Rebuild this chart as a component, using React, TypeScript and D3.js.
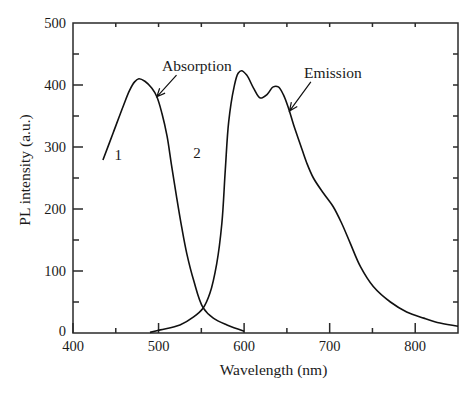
import React from "react";
import * as d3 from "d3";

// absorption curve (1)
const absWl = [435, 447, 459, 466, 472, 477, 484, 492, 498, 504, 510, 515, 521, 527, 533, 541, 552, 564, 580, 600];
const absVal = [279, 323, 367, 391, 405, 410, 406, 395, 381, 354, 317, 272, 220, 171, 128, 85, 41, 24, 13, 3];

// emission curve (2)
const emWl = [490, 502, 525, 541, 552, 560, 568, 574, 578, 582, 588, 593, 597, 603, 611, 619, 627, 634, 640, 646, 652, 658, 666, 673, 681, 693, 704, 714, 724, 736, 751, 771, 790, 810, 829, 850];
const emVal = [1, 5, 13, 26, 40, 64, 112, 177, 263, 341, 395, 419, 423, 416, 395, 379, 385, 397, 397, 384, 362, 335, 303, 275, 250, 225, 204, 177, 145, 107, 75, 50, 34, 24, 16, 11];

const xTicks = [400, 500, 600, 700, 800];
const yTicks = [0, 100, 200, 300, 400, 500];

// annotations: label, text anchor point, arrow start, arrow tip (data units)
const notes = [
  { text: "Absorption", at: [504, 422], from: [521, 416], to: [498, 381] },
  { text: "Emission", at: [670, 411], from: [678, 405], to: [653, 358] },
];
const curveLabels = [
  { text: "1", at: [453, 287] },
  { text: "2", at: [545, 290] },
];

const W = 474;
const H = 396;
const font = "'Liberation Serif', 'Times New Roman', serif";
const ink = "#2a2a2a";

export default function App() {
  const x = d3.scaleLinear().domain([400, 850]).range([73, 458]);
  const y = d3.scaleLinear().domain([0, 500]).range([333, 23]);

  const line = d3
    .line<[number, number]>()
    .x((d) => x(d[0]))
    .y((d) => y(d[1]))
    .curve(d3.curveCatmullRom.alpha(0.5));

  const absPath = line(absWl.map((w, i) => [w, absVal[i]]));
  const emPath = line(emWl.map((w, i) => [w, emVal[i]]));

  const [x0, x1] = x.range();
  const [y0, y1] = y.range();

  const arrowHead = (fx: number, fy: number, tx: number, ty: number) => {
    const a = Math.atan2(ty - fy, tx - fx);
    const len = 9;
    const spread = 0.42;
    const p1 = [tx - len * Math.cos(a - spread), ty - len * Math.sin(a - spread)];
    const p2 = [tx - len * Math.cos(a + spread), ty - len * Math.sin(a + spread)];
    return `M${fx},${fy}L${tx},${ty}M${p1[0]},${p1[1]}L${tx},${ty}L${p2[0]},${p2[1]}`;
  };

  return (
    <svg width={W} height={H} style={{ position: "absolute", left: 0, top: 0, background: "#fff" }}>
      <rect x={0} y={0} width={W} height={H} fill="#fff" />

      {/* frame */}
      <rect x={x0} y={y1} width={x1 - x0} height={y0 - y1} fill="none" stroke={ink} strokeWidth={1.5} />

      {/* bottom ticks */}
      {d3.range(400, 850, 50).map((v) => (
        <line key={"b" + v} x1={x(v)} x2={x(v)} y1={y0} y2={y0 - (v % 100 === 0 ? 10 : 5)} stroke={ink} strokeWidth={1.5} />
      ))}
      {/* top ticks */}
      {d3.range(450, 850, 50).map((v) => (
        <line key={"t" + v} x1={x(v)} x2={x(v)} y1={y1} y2={y1 + 4} stroke={ink} strokeWidth={1.5} />
      ))}
      {/* left ticks */}
      {d3.range(50, 500, 50).map((v) => (
        <line key={"l" + v} x1={x0} x2={x0 + (v % 100 === 0 ? 10 : 6)} y1={y(v)} y2={y(v)} stroke={ink} strokeWidth={1.5} />
      ))}
      {/* right ticks */}
      {d3.range(50, 500, 50).map((v) => (
        <line key={"r" + v} x1={x1} x2={x1 - 5} y1={y(v)} y2={y(v)} stroke={ink} strokeWidth={1.5} />
      ))}

      {/* tick labels */}
      <g fontFamily={font} fontSize={14.5} fill="#1a1a1a">
        {xTicks.map((v) => (
          <text key={"xl" + v} x={x(v)} y={y0 + 18} textAnchor="middle">
            {v}
          </text>
        ))}
        {yTicks.map((v) => (
          <text key={"yl" + v} x={x0 - 7} y={y(v) + (v === 0 ? 3 : 5)} textAnchor="end">
            {v}
          </text>
        ))}
      </g>

      {/* axis titles */}
      <text x={(x0 + x1) / 2 + 8} y={375} textAnchor="middle" fontFamily={font} fontSize={15.5} fill="#1a1a1a">
        Wavelength (nm)
      </text>
      <text
        transform={`translate(30,${(y0 + y1) / 2 - 8}) rotate(-90)`}
        textAnchor="middle"
        fontFamily={font}
        fontSize={15.5}
        fill="#1a1a1a"
      >
        PL intensity (a.u.)
      </text>

      {/* curves */}
      <path d={absPath ?? ""} fill="none" stroke="#111" strokeWidth={1.6} />
      <path d={emPath ?? ""} fill="none" stroke="#111" strokeWidth={1.6} />

      {/* annotations */}
      {notes.map((n) => (
        <g key={n.text}>
          <text x={x(n.at[0])} y={y(n.at[1])} fontFamily={font} fontSize={15.5} fill="#1a1a1a">
            {n.text}
          </text>
          <path
            d={arrowHead(x(n.from[0]), y(n.from[1]), x(n.to[0]), y(n.to[1]))}
            fill="none"
            stroke="#111"
            strokeWidth={1.2}
          />
        </g>
      ))}
      {curveLabels.map((c) => (
        <text key={c.text} x={x(c.at[0])} y={y(c.at[1]) + 5} textAnchor="middle" fontFamily={font} fontSize={15} fill="#1a1a1a">
          {c.text}
        </text>
      ))}
    </svg>
  );
}
